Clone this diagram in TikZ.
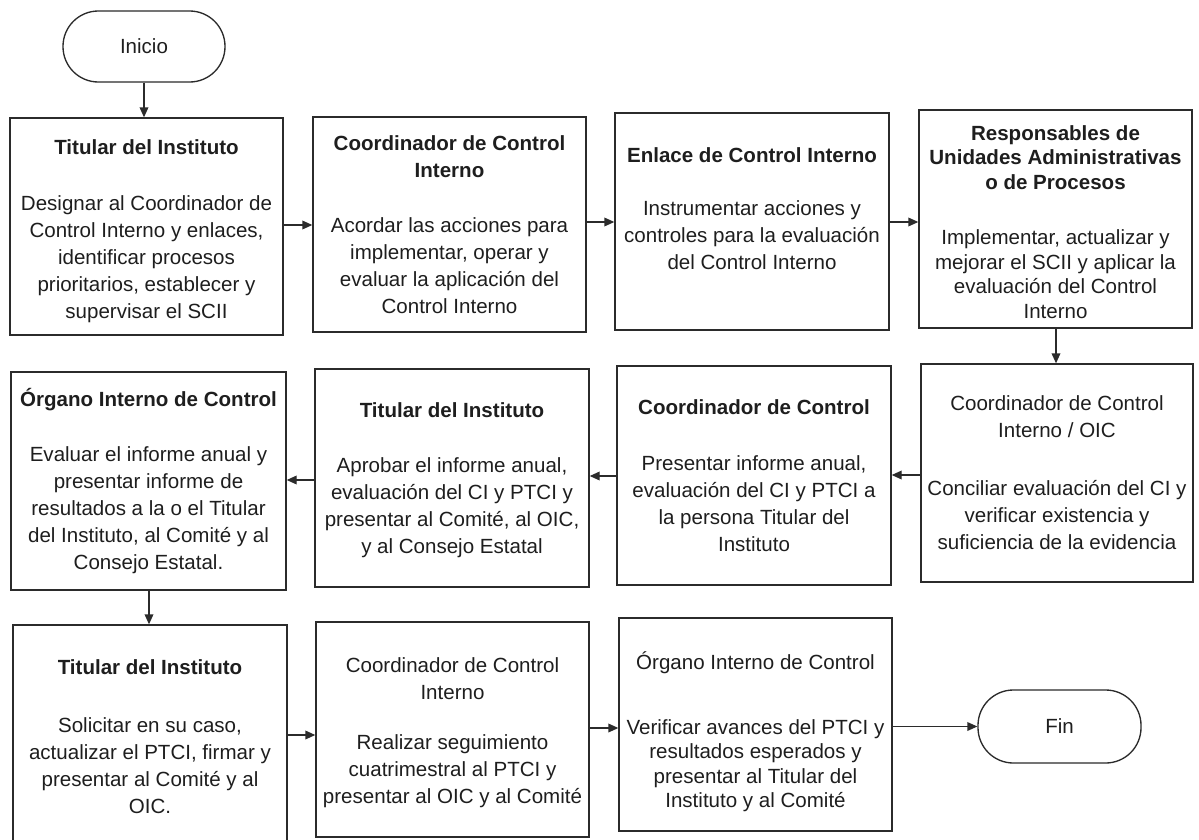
\documentclass[tikz,border=0pt]{standalone}
\usepackage{fontspec}
\setmainfont{Liberation Sans}
\usetikzlibrary{arrows.meta,fit}
\definecolor{linec}{HTML}{2B2B2B}
\definecolor{textc}{HTML}{1E1E1E}
\tikzset{
  boxst/.style={draw=linec, line width=1pt, inner sep=0pt, rectangle},
  termst/.style={draw=linec, line width=1pt, rounded corners=26.5pt, inner sep=0pt, text=textc,
    font=\fontsize{15.4}{20.25}\selectfont},
  txt/.style={align=center, inner sep=0pt, text=textc, anchor=north,
    font=\fontsize{15.4}{20.25}\selectfont},
  txttight/.style={align=center, inner sep=0pt, text=textc, anchor=north,
    font=\fontsize{15.4}{18.45}\selectfont},
  arr/.style={draw=linec, line width=1pt, -{Triangle[length=7.5pt,width=6.5pt]}},
}
\begin{document}
\begin{tikzpicture}[x=0.75pt,y=-0.75pt]
\useasboundingbox (0,0) rectangle (1199,839);
\clip (0,0) rectangle (1199,839);
\fill[white] (0,0) rectangle (1199,839);

% terminals
\node[termst, minimum width=121.5pt, minimum height=53.25pt] (inicio) at (144,46.5) {Inicio};
\node[termst, minimum width=122.25pt, minimum height=54.75pt] (fin) at (1059.5,726.5) {Fin};

% boxes
\node[boxst, fit={(10,118) (283,335)}] (b1) {};
\node[boxst, fit={(313,117) (586,332)}] (b2) {};
\node[boxst, fit={(615,113) (889,330)}] (b3) {};
\node[boxst, fit={(919,110) (1192,328)}] (b4) {};
\node[boxst, fit={(921,364) (1193,582)}] (b5) {};
\node[boxst, fit={(617,366) (891,585)}] (b6) {};
\node[boxst, fit={(315,369) (589,587)}] (b7) {};
\node[boxst, fit={(11,372) (286,590)}] (b8) {};
\node[boxst, fit={(13,625) (287,842)}] (b9) {};
\node[boxst, fit={(316,622) (589,837)}] (b10) {};
\node[boxst, fit={(619,618) (892,831)}] (b11) {};

% texts
\node[txt] (t1) at (146.5,139) {\textbf{Titular del Instituto}\\[21.75pt]
Designar al Coordinador de\\ Control Interno y enlaces,\\ identificar procesos\\ prioritarios, establecer y\\ supervisar el SCII};
\node[txt] (t2) at (449.5,135) {\textbf{Coordinador de Control}\\ \textbf{Interno}\\[21pt]
Acordar las acciones para\\ implementar, operar y\\ evaluar la aplicación del\\ Control Interno};
\node[txt] (t3) at (752,147) {\textbf{Enlace de Control Interno}\\[19.5pt]
Instrumentar acciones y\\ controles para la evaluación\\ del Control Interno};
\node[txttight] (t4) at (1055.5,125) {\textbf{Responsables de}\\ \textbf{Unidades Administrativas}\\ \textbf{o de Procesos}\\[22.9pt]
Implementar, actualizar y\\ mejorar el SCII y aplicar la\\ evaluación del Control\\ Interno};
\node[txt] (t5) at (1057,395) {Coordinador de Control\\ Interno / OIC\\[23.25pt]
Conciliar evaluación del CI y\\ verificar existencia y\\ suficiencia de la evidencia};
\node[txt] (t6) at (754,399) {\textbf{Coordinador de Control}\\[21.75pt]
Presentar informe anual,\\ evaluación del CI y PTCI a\\ la persona Titular del\\ Instituto};
\node[txt] (t7) at (452,402) {\textbf{Titular del Instituto}\\[21pt]
Aprobar el informe anual,\\ evaluación del CI y PTCI y\\ presentar al Comité, al OIC,\\ y al Consejo Estatal};
\node[txt] (t8) at (148.5,388.5) {\textbf{Órgano Interno de Control}\\[21pt]
Evaluar el informe anual y\\ presentar informe de\\ resultados a la o el Titular\\ del Instituto, al Comité y al\\ Consejo Estatal.};
\node[txt] (t9) at (150,659) {\textbf{Titular del Instituto}\\[23.25pt]
Solicitar en su caso,\\ actualizar el PTCI, firmar y\\ presentar al Comité y al\\ OIC.};
\node[txt] (t10) at (452.5,657) {Coordinador de Control\\ Interno\\[17.6pt]
Realizar seguimiento\\ cuatrimestral al PTCI y\\ presentar al OIC y al Comité};
\node[txttight] (t11) at (755.5,651.5) {Órgano Interno de Control\\[30pt]
Verificar avances del PTCI y\\ resultados esperados y\\ presentar al Titular del\\ Instituto y al Comité};

% connectors
\draw[arr] (inicio.south) -- (b1.north -| inicio.south);
\draw[arr] (b1.east |- 0,225) -- (b2.west |- 0,225);
\draw[arr] (b2.east |- 0,222) -- (b3.west |- 0,222);
\draw[arr] (b3.east |- 0,222) -- (b4.west |- 0,222);
\draw[arr] (b4.south -| 1056,0) -- (b5.north -| 1056,0);
\draw[arr] (b5.west |- 0,475) -- (b6.east |- 0,475);
\draw[arr] (b6.west |- 0,476) -- (b7.east |- 0,476);
\draw[arr] (b7.west |- 0,480) -- (b8.east |- 0,480);
\draw[arr] (b8.south -| 149,0) -- (b9.north -| 149,0);
\draw[arr] (b9.east |- 0,735) -- (b10.west |- 0,735);
\draw[arr] (b10.east |- 0,728) -- (b11.west |- 0,728);
\draw[arr] (b11.east |- fin.west) -- (fin.west);
\end{tikzpicture}
\end{document}
